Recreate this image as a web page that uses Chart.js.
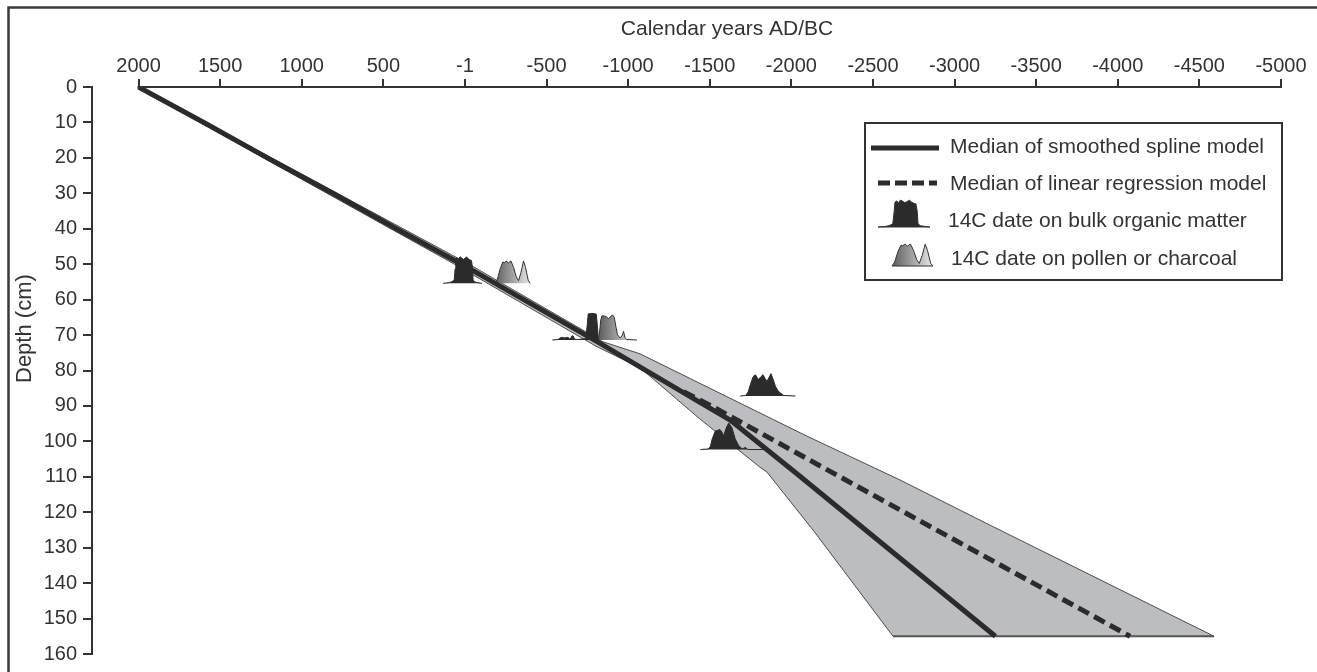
<!DOCTYPE html>
<html>
<head>
<meta charset="utf-8">
<title>Age-depth model</title>
<script src="https://cdn.jsdelivr.net/npm/chart.js@4.4.1/dist/chart.umd.min.js"></script>
<style>
  html, body { margin: 0; padding: 0; background: #fff; }
  #wrap { width: 1317px; height: 672px; position: relative; }
</style>
</head>
<body>
<div id="wrap"><canvas id="ageDepthChart"></canvas></div>
<script>
// axis ticks
const yearTicks = [2000, 1500, 1000, 500, 0, -500, -1000, -1500, -2000, -2500, -3000, -3500, -4000, -4500, -5000];
const yearTickLabels = ['2000', '1500', '1000', '500', '-1', '-500', '-1000', '-1500', '-2000', '-2500', '-3000', '-3500', '-4000', '-4500', '-5000'];
const depthTicks = [0, 10, 20, 30, 40, 50, 60, 70, 80, 90, 100, 110, 120, 130, 140, 150, 160];

// median of smoothed spline model
const splineDepth = [0, 10, 20, 30, 40, 50, 72, 89, 94, 109, 155];
const splineAge = [2000, 1600, 1210, 810, 420, 20, -815, -1440, -1625, -2030, -3250];

// median of linear regression model (where it leaves the spline)
const linearDepth = [86, 90, 123, 155];
const linearAge = [-1340, -1510, -2810, -4075];

// model range: younger and older bound
const youngDepth = [0, 20, 50.5, 73.3, 79.2, 93.7, 107.3, 108.7, 125.4, 155];
const youngAge = [2000, 1235, 45, -809, -1073, -1440, -1808, -1851, -2139, -2623];
const oldDepth = [0, 20, 50, 71.9, 75.3, 98.4, 110.9, 123.5, 155];
const oldAge = [2000, 1185, -25, -846, -1073, -2090, -2666, -3211, -4590];

// 14C dates on bulk organic matter (calibrated probability, relative)
const bulk1Depth = 55.4;
const bulk1Age = [134, 100, 80, 66, 60, 56, 48, 40, 30, 20, 10, 0, -10, -20, -30, -40, -46, -50, -60, -75, -92, -105];
const bulk1Prob = [0, 0.02, 0.06, 0.12, 0.55, 0.92, 0.96, 0.9, 1.0, 0.95, 0.9, 0.94, 0.99, 0.93, 0.88, 0.86, 0.6, 0.12, 0.05, 0.03, 0.01, 0];

const bulk2Depth = 71.4;
const bulk2Age = [-536, -570, -590, -610, -630, -645, -655, -662, -672, -690, -740, -750, -755, -770, -790, -805, -812, -818];
const bulk2Prob = [0, 0.02, 0.1, 0.08, 0.1, 0.03, 0.15, 0.16, 0.03, 0.02, 0.05, 0.6, 0.98, 1.0, 1.0, 0.97, 0.5, 0];

const bulk3Depth = 87.2;
const bulk3Age = [-1687, -1720, -1735, -1750, -1765, -1779, -1790, -1799, -1812, -1826, -1840, -1851, -1863, -1875, -1890, -1902, -1918, -1932, -1953, -2025];
const bulk3Prob = [0, 0.02, 0.15, 0.45, 0.72, 0.8, 0.7, 0.62, 0.72, 0.8, 0.65, 0.55, 0.7, 0.84, 0.6, 0.37, 0.2, 0.12, 0.02, 0];

const bulk4Depth = 102.3;
const bulk4Age = [-1442, -1490, -1503, -1515, -1534, -1550, -1561, -1575, -1585, -1600, -1616, -1636, -1656, -1677, -1698, -1710, -1718, -1726, -1740, -1830];
const bulk4Prob = [0, 0.02, 0.1, 0.4, 0.7, 0.72, 0.76, 0.65, 0.52, 0.8, 1.0, 0.82, 0.4, 0.15, 0.03, 0.05, 0.09, 0.02, 0, 0];

// 14C dates on pollen or charcoal
const pollen1Depth = 55.4;
const pollen1Age = [-185, -199, -216, -232, -242, -252, -260, -267, -275, -282, -298, -314, -328, -343, -359, -371, -388, -400];
const pollen1Prob = [0, 0.15, 0.55, 0.8, 0.78, 0.84, 0.8, 0.76, 0.82, 0.84, 0.6, 0.25, 0.1, 0.4, 0.84, 0.6, 0.1, 0];

const pollen2Depth = 71.4;
const pollen2Age = [-818, -825, -832, -840, -855, -866, -880, -895, -905, -915, -925, -935, -950, -962, -972, -980, -990, -1054];
const pollen2Prob = [0, 0.3, 0.75, 0.91, 0.9, 0.88, 0.8, 0.9, 0.94, 0.85, 0.5, 0.2, 0.08, 0.15, 0.33, 0.1, 0.02, 0];

const INK = '#2b2b2b';
const BAND = '#bcbdc0';
const PROB_CM = 7.5;   // depth units drawn for a relative probability of 1

Chart.defaults.font.family = '"Liberation Sans", Arial, Helvetica, sans-serif';
Chart.defaults.color = '#333';

const toPoints = (ages, depths) => ages.map((a, i) => ({x: a, y: depths[i]}));
const datePoints = (ages, prob, base) => ages.map((a, i) => ({x: a, y: base - prob[i] * PROB_CM}));

const pollenFill = (ages) => (c) => {
  const chart = c.chart;
  const xs = chart.scales.x;
  if (!chart.chartArea || !xs) return '#999';
  const g = chart.ctx.createLinearGradient(xs.getPixelForValue(ages[0]), 0, xs.getPixelForValue(ages[ages.length - 1]), 0);
  g.addColorStop(0, '#5c5d60');
  g.addColorStop(1, '#e8e8e8');
  return g;
};

const bulkSet = (ages, prob, base) => ({
  data: datePoints(ages, prob, base),
  backgroundColor: INK, borderColor: INK, borderWidth: 1,
  fill: {value: base}, order: 5
});
const pollenSet = (ages, prob, base) => ({
  data: datePoints(ages, prob, base),
  backgroundColor: pollenFill(ages), borderColor: '#333', borderWidth: 1,
  fill: {value: base}, order: 5
});

// draw a small date curve for the legend
function drawIcon(ctx, ages, prob, x0, x1, base, h, fillStyle) {
  const a0 = ages[0], a1 = ages[ages.length - 1];
  ctx.beginPath();
  ages.forEach((a, i) => {
    const px = x0 + (a0 - a) / (a0 - a1) * (x1 - x0);
    const py = base - prob[i] * h;
    if (i) ctx.lineTo(px, py); else ctx.moveTo(px, py);
  });
  ctx.closePath();
  ctx.fillStyle = fillStyle;
  ctx.fill();
  ctx.lineWidth = 1;
  ctx.strokeStyle = '#333';
  ctx.stroke();
}

const decor = {
  id: 'decor',
  beforeDraw(chart) {
    const {ctx, width, height} = chart;
    ctx.save();
    ctx.fillStyle = '#fff';
    ctx.fillRect(0, 0, width, height);
    ctx.restore();
  },
  afterDraw(chart) {
    const {ctx, chartArea} = chart;
    const xs = chart.scales.x;
    ctx.save();

    // figure frame (top and left)
    ctx.strokeStyle = '#3a3a3a';
    ctx.lineWidth = 2.5;
    ctx.beginPath();
    ctx.moveTo(1317, 7.5);
    ctx.lineTo(8.5, 7.5);
    ctx.lineTo(8.5, 672);
    ctx.stroke();

    // top axis line between first and last tick
    ctx.strokeStyle = '#333';
    ctx.lineWidth = 2;
    ctx.beginPath();
    ctx.moveTo(xs.getPixelForValue(yearTicks[0]) - 1, chartArea.top);
    ctx.lineTo(xs.getPixelForValue(yearTicks[yearTicks.length - 1]) + 1, chartArea.top);
    ctx.stroke();

    // axis titles
    ctx.fillStyle = '#333';
    ctx.font = '21px "Liberation Sans", Arial, sans-serif';
    ctx.textAlign = 'center';
    ctx.textBaseline = 'middle';
    ctx.fillText('Calendar years AD/BC', 727, 29);
    ctx.save();
    ctx.translate(25, 383);
    ctx.rotate(-Math.PI / 2);
    ctx.textAlign = 'left';
    ctx.font = '22px "Liberation Sans", Arial, sans-serif';
    ctx.fillText('Depth (cm)', 0, 0);
    ctx.restore();

    // legend
    ctx.lineWidth = 2;
    ctx.strokeStyle = '#333';
    ctx.strokeRect(865, 123, 417, 157);

    ctx.strokeStyle = INK;
    ctx.lineWidth = 5;
    ctx.beginPath(); ctx.moveTo(871, 148); ctx.lineTo(939, 148); ctx.stroke();
    ctx.setLineDash([12, 5]);
    ctx.beginPath(); ctx.moveTo(878, 183); ctx.lineTo(937, 183); ctx.stroke();
    ctx.setLineDash([]);

    drawIcon(ctx, bulk1Age, bulk1Prob, 878, 930, 227, 27, INK);
    const g = ctx.createLinearGradient(892, 0, 933, 0);
    g.addColorStop(0, '#5c5d60');
    g.addColorStop(1, '#e8e8e8');
    drawIcon(ctx, pollen1Age, pollen1Prob, 892, 933, 266, 26, g);

    ctx.fillStyle = '#333';
    ctx.font = '21px "Liberation Sans", Arial, sans-serif';
    ctx.textAlign = 'left';
    ctx.textBaseline = 'middle';
    ctx.fillText('Median of smoothed spline model', 950, 147);
    ctx.fillText('Median of linear regression model', 950, 184);
    ctx.fillText('14C date on bulk organic matter', 948, 221);
    ctx.fillText('14C date on pollen or charcoal', 951, 259);
    ctx.restore();
  }
};

new Chart(document.getElementById('ageDepthChart'), {
  type: 'line',
  data: {
    datasets: [
      {
        label: 'Median of smoothed spline model',
        data: toPoints(splineAge, splineDepth),
        indexAxis: 'y',
        borderColor: INK, borderWidth: 5, fill: false, order: 0
      },
      {
        label: 'Median of linear regression model',
        data: toPoints(linearAge, linearDepth),
        indexAxis: 'y',
        borderColor: INK, borderWidth: 5, borderDash: [12, 6], fill: false, order: 1
      },
      bulkSet(bulk1Age, bulk1Prob, bulk1Depth),
      bulkSet(bulk2Age, bulk2Prob, bulk2Depth),
      bulkSet(bulk3Age, bulk3Prob, bulk3Depth),
      bulkSet(bulk4Age, bulk4Prob, bulk4Depth),
      pollenSet(pollen1Age, pollen1Prob, pollen1Depth),
      pollenSet(pollen2Age, pollen2Prob, pollen2Depth),
      {
        label: 'range young',
        data: toPoints(youngAge, youngDepth),
        indexAxis: 'y',
        borderColor: '#4d4d4d', borderWidth: 1,
        backgroundColor: BAND, fill: '+1', order: 11
      },
      {
        label: 'range old',
        data: toPoints(oldAge, oldDepth),
        indexAxis: 'y',
        borderColor: '#4d4d4d', borderWidth: 1, fill: false, order: 10
      },
      {
        label: 'range base',
        data: [{x: youngAge[youngAge.length - 1], y: 155}, {x: oldAge[oldAge.length - 1], y: 155}],
        borderColor: '#555', borderWidth: 2, fill: false, order: 9
      }
    ]
  },
  options: {
    responsive: true,
    maintainAspectRatio: false,
    animation: false,
    layout: {padding: {top: 0, left: 0, right: 36, bottom: 11}},
    elements: {point: {radius: 0, hoverRadius: 0}, line: {tension: 0, borderCapStyle: 'butt'}},
    plugins: {legend: {display: false}, tooltip: {enabled: false}},
    events: [],
    scales: {
      x: {
        type: 'linear',
        position: 'top',
        reverse: true,
        min: -5000,
        max: 2285,
        bounds: 'data',
        afterBuildTicks: (s) => { s.ticks = yearTicks.map(v => ({value: v})); },
        afterFit: (s) => { s.height = 87; },
        ticks: {
          font: {size: 20},
          color: '#333',
          padding: 1,
          maxRotation: 0,
          autoSkip: false,
          callback: (v) => yearTickLabels[yearTicks.indexOf(v)]
        },
        grid: {drawOnChartArea: false, drawTicks: true, tickLength: 8, color: '#333', lineWidth: 2},
        border: {display: false}
      },
      y: {
        type: 'linear',
        position: 'left',
        reverse: true,
        min: 0,
        max: 160,
        afterBuildTicks: (s) => { s.ticks = depthTicks.map(v => ({value: v})); },
        afterFit: (s) => { s.width = 92; },
        ticks: {font: {size: 20}, color: '#333', padding: 6, autoSkip: false},
        grid: {drawOnChartArea: false, drawTicks: true, tickLength: 9, color: '#333', lineWidth: 2},
        border: {display: true, color: '#333', width: 2}
      }
    }
  },
  plugins: [decor]
});
</script>
</body>
</html>
